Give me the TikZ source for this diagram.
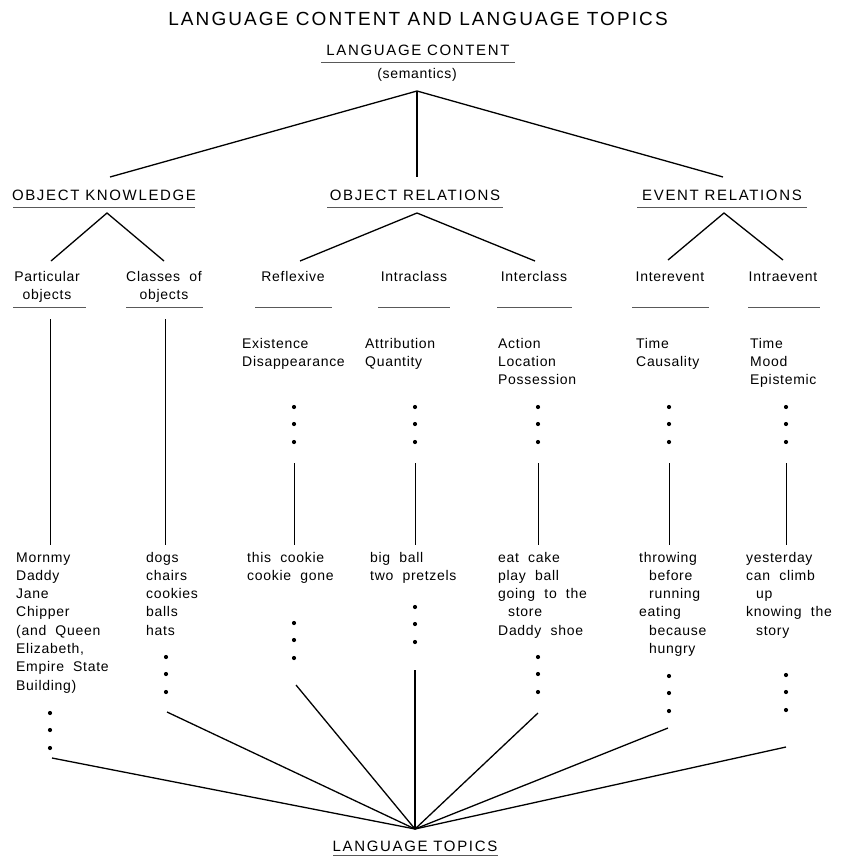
\documentclass[tikz,border=0pt]{standalone}
\usepackage{fontspec}
\setmainfont{Liberation Sans}
\newfontfamily\bodyf[LetterSpace=5,WordSpace=2.0]{Liberation Sans}
\newfontfamily\headf[LetterSpace=11,WordSpace=1.6]{Liberation Sans}
\newfontfamily\titlef[LetterSpace=11]{Liberation Sans}
\newcommand{\blk}[1]{\begin{tabular}[t]{@{}l@{}}#1\end{tabular}}
\newcommand{\cblk}[1]{\begin{tabular}[t]{@{}c@{}}#1\end{tabular}}
\newcommand{\ind}{\hspace*{10pt}}
\begin{document}
\begin{tikzpicture}[x=1pt,y=-1pt,
  bodytxt/.style={font=\bodyf\fontsize{14}{18.3}\selectfont, inner sep=0pt, anchor=base west},
  labtxt/.style={font=\bodyf\fontsize{14}{18.3}\selectfont, inner sep=0pt, anchor=base},
  headtxt/.style={font=\headf\fontsize{15}{18}\selectfont, inner sep=0pt, anchor=base},
  titletxt/.style={font=\titlef\fontsize{19}{22}\selectfont, inner sep=0pt, anchor=base},
  ln/.style={line width=1.3pt},
  vln/.style={line width=0.8pt},
  ul/.style={line width=0.8pt, black!65},
  dotn/.style={circle, fill=black, inner sep=0pt, minimum size=4.2pt}
]
\useasboundingbox (0,0) rectangle (845,857);

% titles and headings
\node[titletxt] (title) at (418,25) {LANGUAGE CONTENT AND LANGUAGE TOPICS};
\node[headtxt] (lc) at (418,55) {LANGUAGE CONTENT};
\draw[ul] (321,62) -- (515,62);
\node[labtxt] (sem) at (417,78) {(semantics)};

\node[headtxt] (ok) at (104,200) {OBJECT KNOWLEDGE};
\draw[ul] (13,207) -- (195,207);
\node[headtxt] (or) at (415,200) {OBJECT RELATIONS};
\draw[ul] (327,207) -- (503,207);
\node[headtxt] (er) at (722,200) {EVENT RELATIONS};
\draw[ul] (637,207) -- (807,207);

% top fan
\coordinate (apex) at (417,91);
\coordinate (okt) at (110,177);
\coordinate (ort) at (417,177);
\coordinate (ert) at (723,177);
\draw[ln] (okt) -- (apex) -- (ert);
\draw[ln] (apex) -- (ort);

% level-2 labels
\node[labtxt] (part) at (47,281) {\cblk{Particular\\objects}};
\node[labtxt] (clas) at (164,281) {\cblk{Classes of\\objects}};
\node[labtxt] (refl) at (293,281) {Reflexive};
\node[labtxt] (intra) at (414,281) {Intraclass};
\node[labtxt] (inter) at (534,281) {Interclass};
\node[labtxt] (iev) at (670,281) {Interevent};
\node[labtxt] (iaev) at (783,281) {Intraevent};
\foreach \a/\b in {13/86,126/203,255/332,378/450,497/572,632/709,748/820}
  \draw[ul] (\a,307) -- (\b,307);

% level-2 fans
\coordinate (oka) at (107,213);
\coordinate (okl) at (51,261);
\coordinate (okr) at (164,261);
\draw[ln] (okl) -- (oka) -- (okr);
\coordinate (ora) at (417,213);
\coordinate (orl) at (300,261);
\coordinate (orr) at (535,261);
\draw[ln] (orl) -- (ora) -- (orr);
\coordinate (era) at (724,213);
\coordinate (erl) at (668,260);
\coordinate (err) at (783,260);
\draw[ln] (erl) -- (era) -- (err);

% middle text
\node[bodytxt] (m1) at (242,348) {\blk{Existence\\Disappearance}};
\node[bodytxt] (m2) at (365,348) {\blk{Attribution\\Quantity}};
\node[bodytxt] (m3) at (498,348) {\blk{Action\\Location\\Possession}};
\node[bodytxt] (m4) at (636,348) {\blk{Time\\Causality}};
\node[bodytxt] (m5) at (750,348) {\blk{Time\\Mood\\Epistemic}};

% upper dots
\foreach \x/\n in {294/a,415/b,538/c,669/d,786/e}
  \foreach \y/\k in {407/1,424/2,442/3}
    \node[dotn] (ud\n\k) at (\x,\y) {};

% vertical lines
\coordinate (v1t) at (50,319);  \coordinate (v1b) at (50,545);
\coordinate (v2t) at (165,319); \coordinate (v2b) at (165,545);
\draw[vln] (v1t) -- (v1b);
\draw[vln] (v2t) -- (v2b);
\foreach \x/\n in {294/a,415/b,538/c,669/d,786/e}{
  \coordinate (vt\n) at (\x,463);
  \coordinate (vb\n) at (\x,545);
  \draw[vln] (vt\n) -- (vb\n);
}

% bottom text
\node[bodytxt] (b1) at (16,562) {\blk{Mornmy\\Daddy\\Jane\\Chipper\\(and Queen\\Elizabeth,\\Empire State\\Building)}};
\node[bodytxt] (b2) at (146,562) {\blk{dogs\\chairs\\cookies\\balls\\hats}};
\node[bodytxt] (b3) at (247,562) {\blk{this cookie\\cookie gone}};
\node[bodytxt] (b4) at (370,562) {\blk{big ball\\two pretzels}};
\node[bodytxt] (b5) at (498,562) {\blk{eat cake\\play ball\\going to the\\\ind store\\Daddy shoe}};
\node[bodytxt] (b6) at (639,562) {\blk{throwing\\\ind before\\\ind running\\eating\\\ind because\\\ind hungry}};
\node[bodytxt] (b7) at (746,562) {\blk{yesterday\\can climb\\\ind up\\knowing the\\\ind story}};

% lower dots
\foreach \x/\y/\n in {50/713/p,166/657/q,294/623/r,415/607/s,538/657/t,669/676/u,786/675/w}
  \foreach \d/\k in {0/1,17/2,35/3}
    \node[dotn] (ld\n\k) at (\x,\y+\d) {};

% bottom fan
\coordinate (conv) at (415,829);
\coordinate (f1) at (52,758);
\coordinate (f2) at (167,712);
\coordinate (f3) at (296,685);
\coordinate (f4) at (415,670);
\coordinate (f5) at (538,713);
\coordinate (f6) at (668,728);
\coordinate (f7) at (786,747);
\foreach \f in {f1,f2,f3,f4,f5,f6,f7}
  \draw[ln] (\f) -- (conv);

\node[headtxt] (lt) at (415,851) {LANGUAGE TOPICS};
\draw[ul] (333,855.5) -- (498,855.5);
\end{tikzpicture}
\end{document}
